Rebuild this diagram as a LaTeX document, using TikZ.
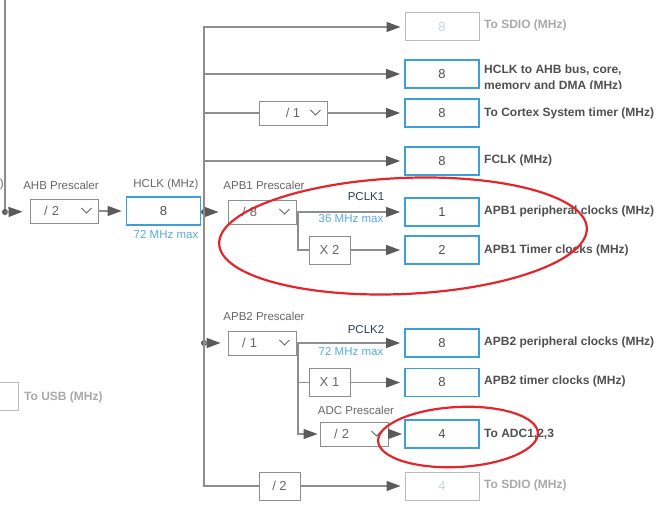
\documentclass[tikz,border=0pt]{standalone}
\usepackage{fontspec}
\setmainfont{Liberation Sans}
\usetikzlibrary{arrows.meta,calc}
\definecolor{wire}{HTML}{8E8E8E}
\definecolor{tip}{HTML}{5A5A5A}
\definecolor{valblue}{HTML}{3C9FD6}
\definecolor{maxblue}{HTML}{55ACE0}
\definecolor{offgray}{HTML}{BBBBBB}
\definecolor{offtext}{HTML}{C5D3E3}
\definecolor{offlab}{HTML}{A9A9A9}
\definecolor{labgray}{HTML}{4F4F4F}
\definecolor{capgray}{HTML}{666666}
\definecolor{pclk}{HTML}{2A3F5C}
\definecolor{ringred}{HTML}{E2262B}
\tikzset{wireline/.style={draw=wire,line width=1.1pt},arrow/.style={wireline,-{Triangle[length=14pt,width=10pt,color=tip]},shorten >=4pt},valbox/.style={draw=valblue,line width=1.8pt,minimum width=74pt,minimum height=28pt,inner sep=0pt,text=labgray,font=\fontsize{13}{15}\selectfont},offbox/.style={valbox,draw=offgray,line width=1pt,text=offtext},divbox/.style={draw=wire,line width=0.9pt,minimum width=68pt,minimum height=24pt,inner sep=0pt,text=capgray,font=\fontsize{13}{15}\selectfont},dropbox/.style={divbox,text width=40pt,align=left,inner xsep=14pt},mulbox/.style={divbox,minimum width=41pt,minimum height=28pt},outlab/.style={anchor=west,inner sep=0pt,text=labgray,font=\bfseries\fontsize{12}{16}\selectfont},smalllab/.style={inner sep=0pt,text=capgray,font=\fontsize{11.5}{13}\selectfont},maxlab/.style={smalllab,text=maxblue},ring/.style={draw=ringred,line width=2.2pt},chev/.style={draw=capgray,line width=0.9pt}}
\newcommand{\chevron}[1]{\draw[chev] ($(#1.east)+(-17,-3)$) -- ++(5,5) -- ++(5,-5);}

\begin{document}
\begin{tikzpicture}[x=1pt,y=-1pt]
\useasboundingbox (0,0) rectangle (668,521);
\clip (0,0) rectangle (668,521);
% input side
\coordinate (src) at (5,-5);
\coordinate (inb) at (5,212);
\node[smalllab,anchor=east] (cut) at (4,185) {)};
\node[smalllab] (ahblab) at (61,185) {AHB Prescaler};
\node[dropbox] (ahb) at (64,211) {/ 2};\chevron{ahb}
\node[smalllab] (hclklab) at (166,185) {HCLK (MHz)};
\node[valbox] (hclk) at (163.5,211) {8};
\node[maxlab] (hclkmax) at (166,235) {72 MHz max};
\node[offbox] (usb) at (-19,396) {};
\node[outlab,text=offlab] (usblab) at (24,397) {To USB (MHz)};
\draw[wireline](src)--(inb);\fill[tip](inb) circle (3pt);
\draw[arrow,shorten >=7pt](inb)--(ahb);\draw[arrow](ahb)--(hclk);
% HCLK bus
\coordinate (hb) at (204,212);
\draw[wireline](hclk)--(hb);\fill[tip](hb) circle (3pt);
\node[offbox] (sdio1) at (442,27) {8};
\node[valbox] (ahbbus) at (442,74) {8};
\node[divbox] (cortexdiv) at (293,113) {/ 1};\chevron{cortexdiv}
\node[valbox] (cortex) at (442,113) {8};
\node[valbox] (fclk) at (442,161) {8};
\node[outlab,text=offlab] (sdio1lab) at (484,25) {To SDIO (MHz)};
\begin{scope}
\clip (480,55) rectangle (668,89);
\node[outlab,align=left] (ahbbuslab) at (484,78) {HCLK to AHB bus, core,\\memory and DMA (MHz)};
\end{scope}
\node[outlab] (cortexlab) at (484,113) {To Cortex System timer (MHz)};
\node[outlab] (fclklab) at (484,160) {FCLK (MHz)};
\draw[arrow](hb)|-(sdio1);\draw[arrow](hb)|-(ahbbus);\draw[arrow](hb)|-(fclk);
\draw[wireline](hb)|-(cortexdiv);\draw[arrow](cortexdiv)--(cortex);
% APB1
\node[smalllab] (apb1lab) at (264,185) {APB1 Prescaler};
\node[dropbox] (apb1) at (262,212) {/ 8};\chevron{apb1}
\node[smalllab,text=pclk] (pclk1) at (366,197) {PCLK1};
\node[maxlab] (pclk1max) at (351,219) {36 MHz max};
\node[valbox] (apb1per) at (442,212) {1};
\node[mulbox] (x2) at (329.5,250) {X 2};
\node[valbox] (apb1tim) at (442,250) {2};
\node[outlab] (apb1perlab) at (484,211) {APB1 peripheral clocks (MHz)};
\node[outlab] (apb1timlab) at (484,250) {APB1 Timer clocks (MHz)};
\coordinate (p1) at (298,212);
\draw[arrow,shorten >=9pt](hb)--(apb1);
\draw[arrow](apb1)--(apb1per);\draw[wireline](p1)|-(x2);\draw[arrow](x2)--(apb1tim);
% APB2
\coordinate (pb2) at (204,343);
\fill[tip](pb2) circle (3pt);
\node[smalllab] (apb2lab) at (264,316) {APB2 Prescaler};
\node[dropbox] (apb2) at (262,343) {/ 1};\chevron{apb2}
\node[smalllab,text=pclk] (pclk2) at (366,330) {PCLK2};
\node[maxlab] (pclk2max) at (351,352) {72 MHz max};
\node[valbox] (apb2per) at (442,343) {8};
\node[mulbox] (x1) at (329.5,382.5) {X 1};
\node[valbox] (apb2tim) at (442,382.5) {8};
\node[smalllab] (adclab) at (356,410) {ADC Prescaler};
\node[dropbox] (adcdiv) at (354,434) {/ 2};\chevron{adcdiv}
\node[valbox] (adc) at (442,434) {4};
\node[outlab] (apb2perlab) at (484,342) {APB2 peripheral clocks (MHz)};
\node[outlab] (apb2timlab) at (484,381) {APB2 timer clocks (MHz)};
\node[outlab] (adclab2) at (484,434) {To ADC1,2,3};
\coordinate (p2) at (298,343);
\draw[arrow,shorten >=7pt](pb2)--(apb2);
\draw[arrow](apb2)--(apb2per);\draw[wireline](p2)|-(x1);\draw[arrow](x1)--(apb2tim);
\draw[arrow,shorten >=2pt](p2)|-(adcdiv);\draw[arrow,shorten >=2pt](adcdiv)--(adc);
% bottom SDIO
\node[mulbox] (sdiodiv) at (279.5,486) {/ 2};
\node[offbox] (sdio2) at (442,486) {4};
\node[outlab,text=offlab] (sdio2lab) at (484,485) {To SDIO (MHz)};
\draw[wireline](hb)|-(sdiodiv);\draw[arrow](sdiodiv)--(sdio2);
% marks
\draw[ring,rotate around={2.5:(403,236)}] (403,236) ellipse [x radius=184pt,y radius=58pt];
\draw[ring,rotate around={3:(458,437)}] (458,437) ellipse [x radius=80pt,y radius=30pt];
\end{tikzpicture}
\end{document}
